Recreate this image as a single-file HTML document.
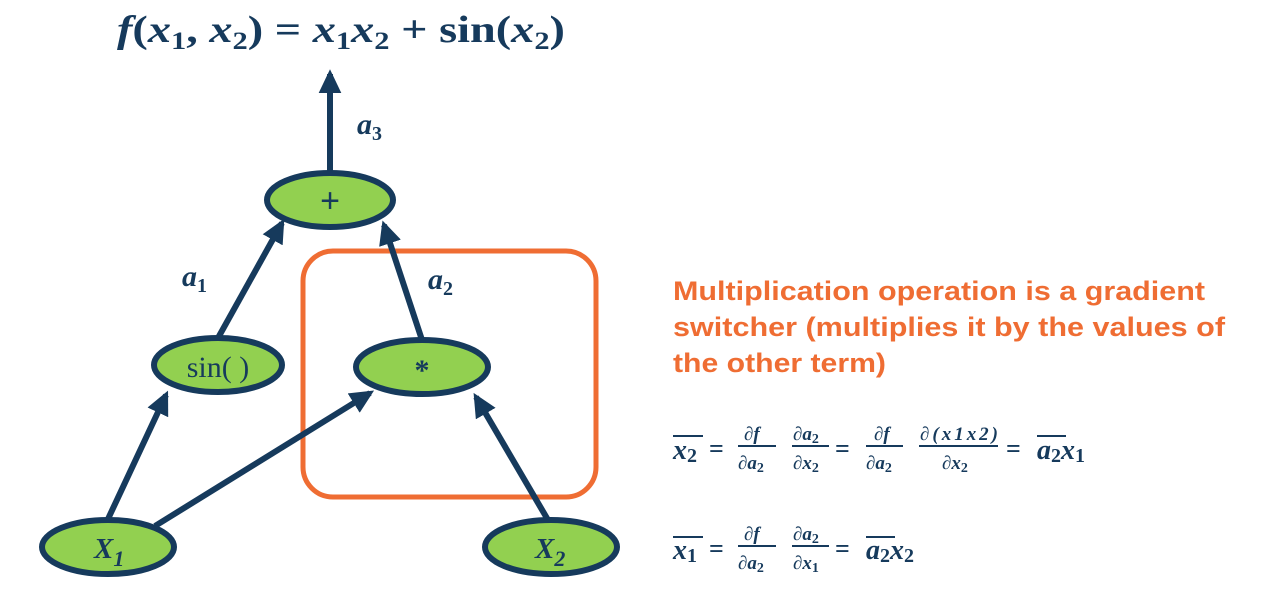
<!DOCTYPE html>
<html><head><meta charset="utf-8"><style>
html,body{margin:0;padding:0;background:#fff;}
svg{display:block}
.m{font-family:"Liberation Serif",serif;font-weight:bold;font-style:italic;fill:#163a5c}
.r{font-family:"Liberation Serif",serif;font-weight:bold;fill:#163a5c}
</style></head><body>
<svg width="1280" height="597" viewBox="0 0 1280 597" xmlns="http://www.w3.org/2000/svg">
<defs><marker id="ah" markerWidth="4" markerHeight="3.8" refX="3.2" refY="1.9" orient="auto" markerUnits="strokeWidth"><path d="M0,0 L4,1.9 L0,3.8 z" fill="#163a5c"/></marker></defs>
<text x="117" y="42" font-size="38" class="m" textLength="448" lengthAdjust="spacingAndGlyphs">f<tspan font-style="normal">(</tspan>x<tspan font-size="25" dy="7" font-style="normal">1</tspan><tspan dy="-7" font-style="normal">, </tspan>x<tspan font-size="25" dy="7" font-style="normal">2</tspan><tspan dy="-7" font-style="normal">) = </tspan>x<tspan font-size="25" dy="7" font-style="normal">1</tspan><tspan dy="-7">x</tspan><tspan font-size="25" dy="7" font-style="normal">2</tspan><tspan dy="-7" font-style="normal"> + sin(</tspan>x<tspan font-size="25" dy="7" font-style="normal">2</tspan><tspan dy="-7" font-style="normal">)</tspan></text>
<rect x="303" y="251" width="293" height="246" rx="30" fill="none" stroke="#ef6d33" stroke-width="5"/>
<g stroke="#163a5c" stroke-width="6" fill="none" marker-end="url(#ah)">
<line x1="330" y1="172" x2="330" y2="74"/>
<line x1="218" y1="338" x2="282" y2="223"/>
<line x1="422" y1="340" x2="384" y2="225"/>
<line x1="108" y1="519" x2="166" y2="395"/>
<line x1="155" y1="526" x2="370" y2="393"/>
<line x1="548" y1="520" x2="476" y2="397"/>
</g>
<g fill="#92d050" stroke="#163a5c" stroke-width="6">
<ellipse cx="330" cy="200" rx="63" ry="27"/>
<ellipse cx="218" cy="365" rx="64" ry="27"/>
<ellipse cx="422" cy="367" rx="66" ry="27"/>
<ellipse cx="108" cy="547" rx="66" ry="27"/>
<ellipse cx="551" cy="547" rx="66" ry="27"/>
</g>
<text x="330" y="212" font-size="34" text-anchor="middle" font-family="Liberation Sans,sans-serif" fill="#163a5c">+</text>
<text x="218" y="377" font-size="30" text-anchor="middle" font-family="Liberation Serif,serif" fill="#163a5c">sin( )</text>
<text x="422" y="380" font-size="30" text-anchor="middle" class="r">*</text>
<text x="94" y="558" font-size="29" class="m">X<tspan font-size="22" dy="8">1</tspan></text>
<text x="535" y="558" font-size="29" class="m">X<tspan font-size="22" dy="8">2</tspan></text>
<text x="357" y="134" font-size="30" class="m">a<tspan font-size="20" dy="6" font-style="normal">3</tspan></text>
<text x="182" y="286" font-size="30" class="m">a<tspan font-size="20" dy="6" font-style="normal">1</tspan></text>
<text x="428" y="289" font-size="30" class="m">a<tspan font-size="20" dy="6" font-style="normal">2</tspan></text>
<g font-family="Liberation Sans,sans-serif" font-weight="bold" font-size="27" fill="#ef6d33">
<text x="673" y="300" textLength="532" lengthAdjust="spacingAndGlyphs">Multiplication operation is a gradient</text>
<text x="673" y="336" textLength="552" lengthAdjust="spacingAndGlyphs">switcher (multiplies it by the values of</text>
<text x="673" y="372" textLength="213" lengthAdjust="spacingAndGlyphs">the other term)</text>
</g>
<g>
<line x1="673" y1="436" x2="703" y2="436" stroke="#163a5c" stroke-width="2"/>
<text x="673" y="459" font-size="28" class="m">x<tspan font-size="20" font-style="normal" dy="3">2</tspan></text>
<text x="709" y="457" font-size="26" class="r">=</text>
<text x="744" y="440" font-size="19" class="m">∂f</text><line x1="738" y1="446" x2="776" y2="446" stroke="#163a5c" stroke-width="2"/><text x="738" y="469" font-size="19" class="m">∂a<tspan font-size="14" font-style="normal" dy="3">2</tspan></text>
<text x="793" y="440" font-size="19" class="m">∂a<tspan font-size="14" font-style="normal" dy="3">2</tspan></text><line x1="792" y1="446" x2="829" y2="446" stroke="#163a5c" stroke-width="2"/><text x="793" y="469" font-size="19" class="m">∂x<tspan font-size="14" font-style="normal" dy="3">2</tspan></text>
<text x="835" y="457" font-size="26" class="r">=</text>
<text x="874" y="440" font-size="19" class="m">∂f</text><line x1="866" y1="446" x2="903" y2="446" stroke="#163a5c" stroke-width="2"/><text x="866" y="469" font-size="19" class="m">∂a<tspan font-size="14" font-style="normal" dy="3">2</tspan></text>
<text x="920" y="440" font-size="19" class="m" textLength="78">∂(x1x2)</text><line x1="919" y1="446" x2="998" y2="446" stroke="#163a5c" stroke-width="2"/><text x="942" y="469" font-size="19" class="m">∂x<tspan font-size="14" font-style="normal" dy="3">2</tspan></text>
<text x="1006" y="457" font-size="26" class="r">=</text>
<line x1="1037" y1="436" x2="1066" y2="436" stroke="#163a5c" stroke-width="2"/>
<text x="1037" y="459" font-size="28" class="m">a<tspan font-size="20" font-style="normal" dy="3">2</tspan><tspan dy="-3">x</tspan><tspan font-size="20" font-style="normal" dy="3">1</tspan></text>
</g>
<g>
<line x1="673" y1="537" x2="703" y2="537" stroke="#163a5c" stroke-width="2"/>
<text x="673" y="559" font-size="28" class="m">x<tspan font-size="20" font-style="normal" dy="3">1</tspan></text>
<text x="709" y="557" font-size="26" class="r">=</text>
<text x="744" y="540" font-size="19" class="m">∂f</text><line x1="738" y1="546" x2="776" y2="546" stroke="#163a5c" stroke-width="2"/><text x="738" y="569" font-size="19" class="m">∂a<tspan font-size="14" font-style="normal" dy="3">2</tspan></text>
<text x="793" y="540" font-size="19" class="m">∂a<tspan font-size="14" font-style="normal" dy="3">2</tspan></text><line x1="792" y1="546" x2="829" y2="546" stroke="#163a5c" stroke-width="2"/><text x="793" y="569" font-size="19" class="m">∂x<tspan font-size="14" font-style="normal" dy="3">1</tspan></text>
<text x="835" y="557" font-size="26" class="r">=</text>
<line x1="866" y1="537" x2="895" y2="537" stroke="#163a5c" stroke-width="2"/>
<text x="866" y="559" font-size="28" class="m">a<tspan font-size="20" font-style="normal" dy="3">2</tspan><tspan dy="-3">x</tspan><tspan font-size="20" font-style="normal" dy="3">2</tspan></text>
</g>
</svg>
</body></html>
